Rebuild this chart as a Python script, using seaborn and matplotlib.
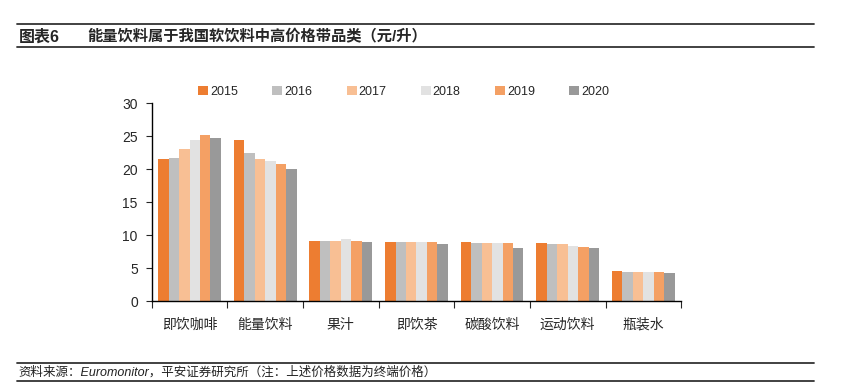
import pandas as pd
import matplotlib.pyplot as plt
import seaborn as sns
from matplotlib.lines import Line2D
from matplotlib.ticker import FixedLocator

# Data (元/升)
categories = ['即饮咖啡', '能量饮料', '果汁', '即饮茶', '碳酸饮料', '运动饮料', '瓶装水']
years = ['2015', '2016', '2017', '2018', '2019', '2020']
v2015 = [21.5, 24.35, 9.15, 8.9, 8.9, 8.75, 4.6]
v2016 = [21.65, 22.4, 9.15, 8.9, 8.75, 8.6, 4.45]
v2017 = [23.1, 21.5, 9.15, 8.9, 8.75, 8.6, 4.45]
v2018 = [24.4, 21.3, 9.35, 8.9, 8.75, 8.4, 4.45]
v2019 = [25.1, 20.75, 9.15, 8.9, 8.75, 8.2, 4.45]
v2020 = [24.75, 20.0, 8.95, 8.6, 8.05, 8.0, 4.25]
colors = ['#ED7D31', '#BFBFBF', '#F8BF94', '#E2E2E2', '#F4A064', '#999999']

series = [v2015, v2016, v2017, v2018, v2019, v2020]
df = pd.DataFrame({
    'cat': categories * len(years),
    'year': [y for y in years for _ in categories],
    'price': [v for s in series for v in s],
})

sns.set_style('white')
plt.rcParams['font.family'] = ['Liberation Sans', 'Noto Sans CJK SC', 'DejaVu Sans']

fig = plt.figure(figsize=(8.43, 3.92), dpi=100)
ax = fig.add_axes([0.180, 0.232, 0.628, 0.505])

sns.barplot(data=df, x='cat', y='price', hue='year', palette=colors,
            width=0.83, gap=0, saturation=1, errorbar=None, ax=ax, linewidth=0)

ax.set_ylim(0, 30)
ax.set_xlim(-0.5, len(categories) - 0.5)
ax.set_yticks(range(0, 31, 5))
ax.set_xlabel('')
ax.set_ylabel('')
for side in ['top', 'right']:
    ax.spines[side].set_visible(False)
for side in ['left', 'bottom']:
    ax.spines[side].set_color('black')
    ax.spines[side].set_linewidth(1.0)
ax.tick_params(axis='y', direction='out', length=4, width=0.8, left=True,
               labelsize=10, pad=6)
ax.tick_params(axis='x', which='major', length=0, labelsize=10, pad=12)
ax.xaxis.set_minor_locator(FixedLocator([i - 0.5 for i in range(len(categories) + 1)]))
ax.tick_params(axis='x', which='minor', direction='out', length=5, width=0.8, bottom=True)

ax.legend(loc='center', bbox_to_anchor=(0.476, 1.058), ncol=6, frameon=False,
          fontsize=9, handlelength=0.8, handleheight=0.8, handletextpad=0.15,
          columnspacing=2.75, borderaxespad=0, borderpad=0)

# header / footer
line_kw = dict(color='#333333', lw=1.3)
fig.text(0.022, 0.906, '图表6', fontsize=11.5, fontweight='bold', va='center')
fig.text(0.104, 0.906, '能量饮料属于我国软饮料中高价格带品类（元/升）', fontsize=11,
         fontweight='bold', va='center')
fig.add_artist(Line2D([0.02, 0.966], [0.939, 0.939], **line_kw))
fig.add_artist(Line2D([0.02, 0.966], [0.879, 0.879], **line_kw))
fig.text(0.022, 0.051, '资料来源：Euromonitor，平安证券研究所（注：上述价格数据为终端价格）',
         fontsize=9, style='italic', va='center', color='#222222')
fig.add_artist(Line2D([0.02, 0.966], [0.074, 0.074], **line_kw))
fig.add_artist(Line2D([0.02, 0.966], [0.028, 0.028], **line_kw))

plt.savefig('out.png', dpi=100)
